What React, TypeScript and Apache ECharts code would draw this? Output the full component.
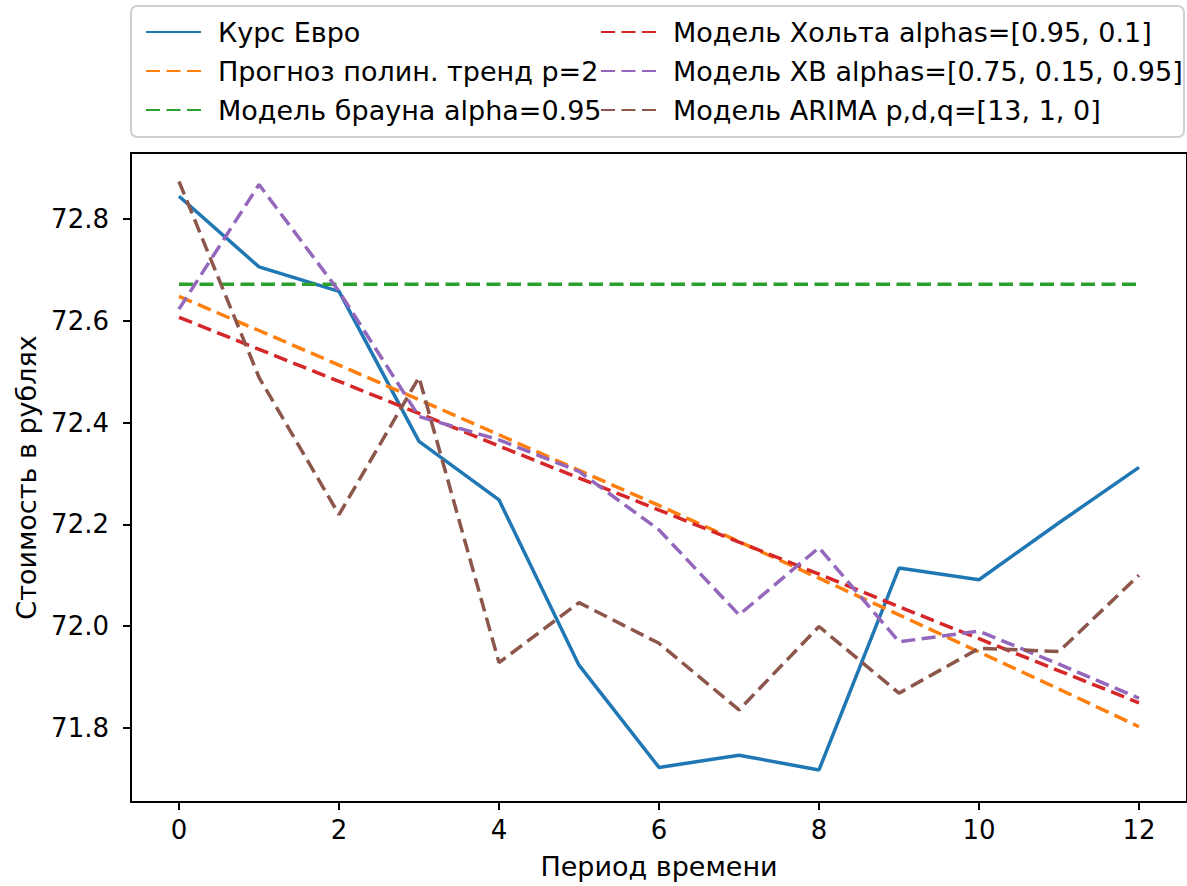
import React, { useEffect, useRef } from "react";
import * as echarts from "echarts";

const periods = [0, 1, 2, 3, 4, 5, 6, 7, 8, 9, 10, 11, 12];
const xTicks = [0, 2, 4, 6, 8, 10, 12];
const yTicks = [71.8, 72.0, 72.2, 72.4, 72.6, 72.8];

const euro = [72.845, 72.706, 72.658, 72.363, 72.248, 71.923, 71.722, 71.746, 71.717, 72.114, 72.091, 72.203, 72.312];
const polyTrend = [72.648, 72.581, 72.513, 72.445, 72.376, 72.306, 72.237, 72.166, 72.094, 72.022, 71.949, 71.876, 71.802];
const brownModel = [72.672, 72.672, 72.672, 72.672, 72.672, 72.672, 72.672, 72.672, 72.672, 72.672, 72.672, 72.672, 72.672];
const holtModel = [72.607, 72.544, 72.481, 72.418, 72.354, 72.291, 72.228, 72.165, 72.102, 72.038, 71.975, 71.912, 71.849];
const hwModel = [72.623, 72.868, 72.658, 72.412, 72.366, 72.304, 72.189, 72.022, 72.154, 71.969, 71.990, 71.925, 71.858];
const arimaModel = [72.874, 72.489, 72.219, 72.489, 71.928, 72.046, 71.966, 71.835, 71.999, 71.868, 71.956, 71.950, 72.100];

const names = [
  "Курс Евро",
  "Прогноз полин. тренд p=2",
  "Модель брауна alpha=0.95",
  "Модель Хольта alphas=[0.95, 0.1]",
  "Модель ХВ alphas=[0.75, 0.15, 0.95]",
  "Модель ARIMA p,d,q=[13, 1, 0]",
];
const colors = ["#1f77b4", "#ff7f0e", "#2ca02c", "#d62728", "#9467bd", "#8c564b"];
const seriesData = [euro, polyTrend, brownModel, holtModel, hwModel, arimaModel];

const FONT = "DejaVu Sans";
const FS = 27;
const TICK_FS = 26;

export default function App() {
  const ref = useRef<HTMLDivElement>(null);
  useEffect(() => {
    if (!ref.current) return;
    const chart = echarts.init(ref.current, undefined, { renderer: "svg" });
    const legendCommon = {
      orient: "vertical",
      top: 12,
      itemWidth: 55,
      itemHeight: 14,
      itemGap: 9,
      itemStyle: {
        color: "rgba(0,0,0,0)",
        borderColor: "rgba(0,0,0,0)",
        borderWidth: 0,
        opacity: 0,
      },
      textStyle: {
        fontFamily: FONT,
        fontSize: FS,
        color: "#000",
        lineHeight: 30,
        padding: [0, 0, 0, 12],
      },
      z: 10,
    };
    chart.setOption({
      animation: false,
      color: colors,
      textStyle: { fontFamily: FONT },
      graphic: [
        {
          type: "rect",
          z: 1,
          shape: { x: 131, y: 6, width: 1053, height: 131, r: 6 },
          style: { fill: "#fff", stroke: "#d0d0d0", lineWidth: 2 },
        },
      ],
      legend: [
        { ...legendCommon, left: 140, data: names.slice(0, 3) },
        { ...legendCommon, left: 595, data: names.slice(3, 6) },
      ],
      grid: {
        left: 131,
        top: 153,
        right: -8,
        bottom: 84,
        show: true,
        borderColor: "#000",
        borderWidth: 2,
        backgroundColor: "#fff",
      },
      xAxis: {
        type: "value",
        min: -0.6,
        max: 12.6,
        name: "Период времени",
        nameLocation: "middle",
        nameGap: 51,
        nameTextStyle: { fontFamily: FONT, fontSize: FS, color: "#000" },
        axisLine: { show: false, onZero: false },
        splitLine: { show: false },
        axisTick: {
          show: true,
          length: 8,
          lineStyle: { color: "#000", width: 2 },
          customValues: xTicks,
        },
        axisLabel: {
          fontFamily: FONT,
          fontSize: TICK_FS,
          color: "#000",
          margin: 15,
          customValues: xTicks,
          formatter: (v: number) => String(v),
        },
      },
      yAxis: {
        type: "value",
        min: 71.654,
        max: 72.93,
        name: "Стоимость в рублях",
        nameLocation: "middle",
        nameGap: 90,
        nameTextStyle: { fontFamily: FONT, fontSize: FS, color: "#000" },
        axisLine: { show: false, onZero: false },
        splitLine: { show: false },
        axisTick: {
          show: true,
          length: 8,
          lineStyle: { color: "#000", width: 2 },
          customValues: yTicks,
        },
        axisLabel: {
          fontFamily: FONT,
          fontSize: TICK_FS,
          color: "#000",
          margin: 22,
          customValues: yTicks,
          formatter: (v: number) => v.toFixed(1),
        },
      },
      series: names.map((n, i) => ({
        name: n,
        type: "line",
        symbol: "none",
        data: periods.map((p, j) => [p, seriesData[i][j]]),
        lineStyle: {
          color: colors[i],
          width: 3.5,
          type: i === 0 ? "solid" : [14, 6.5],
        },
        itemStyle: { color: colors[i] },
        z: 3 + i,
      })),
    });
    return () => chart.dispose();
  }, []);
  return (
    <div
      ref={ref}
      style={{ position: "absolute", left: 0, top: 0, width: 1187, height: 886 }}
    />
  );
}
